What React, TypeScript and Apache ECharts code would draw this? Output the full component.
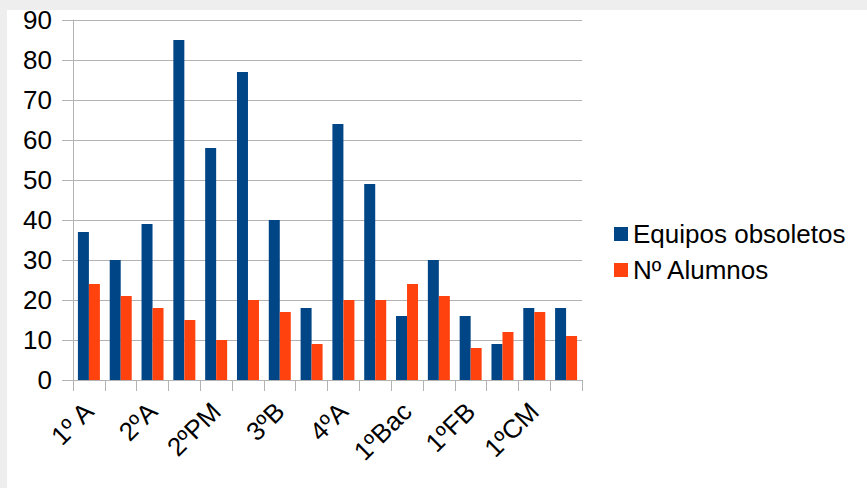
import React, { useEffect, useRef } from "react";
import * as echarts from "echarts";

const categories = [
  "1º A", "1º B", "2ºA", "2ºB", "2ºPM", "3ºA", "3ºB", "3ºC",
  "4ºA", "4ºB", "1ºBac", "2ºBac", "1ºFB", "2ºFB", "1ºCM", "2ºCM",
];
const equipos = [37, 30, 39, 85, 58, 77, 40, 18, 64, 49, 16, 30, 16, 9, 18, 18];
const alumnos = [24, 21, 18, 15, 10, 20, 17, 9, 20, 20, 24, 21, 8, 12, 17, 11];
const seriesNames = ["Equipos obsoletos", "Nº Alumnos"];

export default function App() {
  const ref = useRef<HTMLDivElement>(null);
  useEffect(() => {
    const chart = echarts.init(ref.current!, null, { renderer: "svg" });
    const font = "'Liberation Sans', Arial, sans-serif";
    chart.setOption({
      animation: false,
      backgroundColor: "#eeeeee",
      textStyle: { fontFamily: font },
      graphic: [
        {
          type: "rect",
          z: -1,
          shape: { x: 7, y: 10, width: 860, height: 478 },
          style: { fill: "#ffffff" },
          silent: true,
        },
      ],
      grid: { left: 73, right: 285, top: 20, bottom: 108, containLabel: false },
      legend: {
        orient: "vertical",
        left: 609,
        top: 216,
        itemWidth: 14,
        itemHeight: 14,
        itemGap: 10,
        icon: "rect",
        textStyle: { fontSize: 26, color: "#000", fontFamily: font, padding: [0, 0, 0, 0] },
        data: seriesNames,
      },
      xAxis: {
        type: "category",
        data: categories,
        boundaryGap: true,
        axisLine: { lineStyle: { color: "#b3b3b3", width: 1 } },
        axisTick: { show: true, interval: 0, length: 11, lineStyle: { color: "#b3b3b3" } },
        axisLabel: {
          interval: 1,
          rotate: 45,
          margin: 27,
          fontSize: 26,
          color: "#000",
          fontFamily: font,
        },
        splitLine: { show: false },
      },
      yAxis: {
        type: "value",
        min: 0,
        max: 90,
        interval: 10,
        axisLine: { show: true, lineStyle: { color: "#b3b3b3", width: 1 } },
        axisTick: { show: true, length: 11, lineStyle: { color: "#b3b3b3" } },
        axisLabel: { margin: 21, fontSize: 26, color: "#000", fontFamily: font },
        splitLine: { show: true, lineStyle: { color: "#b3b3b3", width: 1 } },
      },
      series: [
        {
          name: seriesNames[0],
          type: "bar",
          data: equipos,
          barWidth: 11,
          barGap: "0%",
          itemStyle: { color: "#004586" },
        },
        {
          name: seriesNames[1],
          type: "bar",
          data: alumnos,
          barWidth: 11,
          barGap: "0%",
          itemStyle: { color: "#ff420e" },
        },
      ],
    });
    return () => chart.dispose();
  }, []);
  return (
    <div
      ref={ref}
      style={{ position: "fixed", left: 0, top: 0, width: 867, height: 488 }}
    />
  );
}
